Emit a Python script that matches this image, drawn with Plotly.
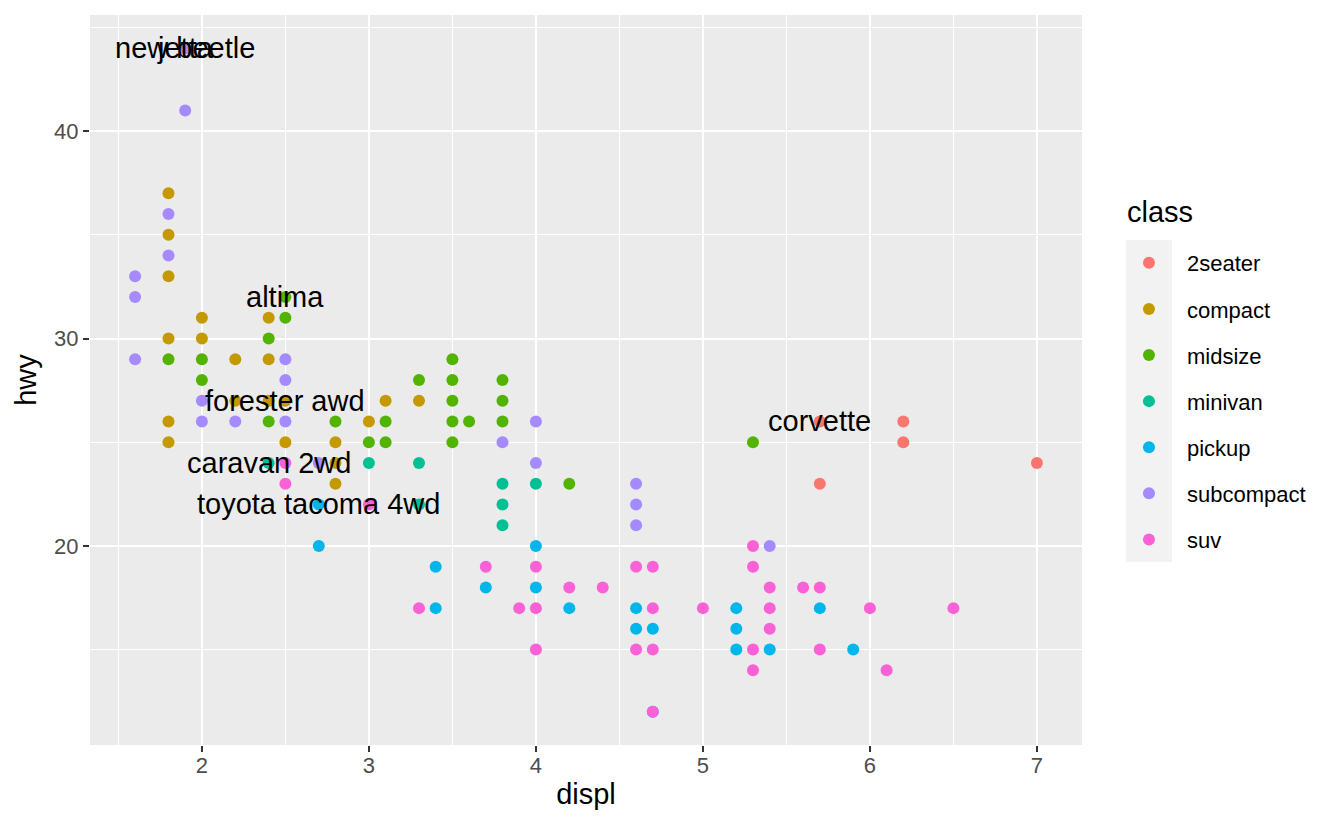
import plotly.graph_objects as go

# ---- data ----
classes = ["2seater", "compact", "midsize", "minivan", "pickup", "subcompact", "suv"]
class_colors = ["#F8766D", "#C49A00", "#53B400", "#00C094", "#00B6EB", "#A58AFF", "#FB61D7"]

displ_2seater = [5.7, 5.7, 6.2, 6.2, 7.0]
hwy_2seater = [26, 23, 26, 25, 24]

displ_compact = [1.8, 1.8, 1.8, 1.8, 1.8, 1.8, 1.9, 2.0, 2.0, 2.2, 2.2, 2.4, 2.4, 2.4, 2.5, 2.5,
                 2.8, 2.8, 2.8, 3.0, 3.1, 3.3]
hwy_compact = [37, 35, 33, 30, 26, 25, 44, 31, 30, 29, 27, 31, 29, 27, 27, 25,
               25, 24, 23, 26, 27, 27]

displ_midsize = [1.8, 2.0, 2.0, 2.4, 2.4, 2.5, 2.5, 2.8, 3.0, 3.1, 3.1, 3.3, 3.5, 3.5, 3.5, 3.5,
                 3.5, 3.6, 3.8, 3.8, 3.8, 4.2, 5.3]
hwy_midsize = [29, 29, 28, 30, 26, 32, 31, 26, 25, 26, 25, 28, 29, 28, 27, 26,
               25, 26, 28, 27, 26, 23, 25]

displ_minivan = [2.4, 3.0, 3.3, 3.3, 3.8, 3.8, 3.8, 4.0]
hwy_minivan = [24, 24, 24, 22, 23, 22, 21, 23]

displ_pickup = [2.7, 2.7, 3.4, 3.4, 3.7, 4.0, 4.0, 4.2, 4.6, 4.6, 4.7, 4.7, 5.2, 5.2, 5.2, 5.4,
                5.7, 5.9]
hwy_pickup = [22, 20, 19, 17, 18, 20, 18, 17, 17, 16, 16, 12, 17, 16, 15, 15,
              17, 15]

displ_subcompact = [1.6, 1.6, 1.6, 1.8, 1.8, 1.9, 1.9, 2.0, 2.0, 2.2, 2.5, 2.5, 2.5, 2.7, 3.8,
                    4.0, 4.0, 4.6, 4.6, 4.6, 5.4]
hwy_subcompact = [33, 32, 29, 36, 34, 44, 41, 27, 26, 26, 29, 28, 26, 24, 25,
                  26, 24, 23, 22, 21, 20]

displ_suv = [2.5, 2.5, 3.0, 3.3, 3.7, 3.9, 4.0, 4.0, 4.0, 4.2, 4.4, 4.6, 4.6, 4.7, 4.7, 4.7,
             4.7, 5.0, 5.3, 5.3, 5.3, 5.3, 5.4, 5.4, 5.4, 5.6, 5.7, 5.7, 6.0, 6.1, 6.5]
hwy_suv = [24, 23, 22, 17, 19, 17, 19, 17, 15, 18, 18, 19, 15, 19, 17, 15,
           12, 17, 20, 19, 15, 14, 18, 17, 16, 18, 18, 15, 17, 14, 17]

# best-in-class labels
label_text = ["corvette", "jetta", "altima", "caravan 2wd", "toyota tacoma 4wd", "new beetle", "forester awd"]
label_x = [5.7, 1.9, 2.5, 2.4, 2.7, 1.9, 2.5]
label_y = [26, 44, 32, 24, 22, 44, 27]

x_ticks = [2, 3, 4, 5, 6, 7]
x_minor = [1.5, 2.5, 3.5, 4.5, 5.5, 6.5]
y_ticks = [20, 30, 40]
y_minor = [15, 25, 35, 45]

series_x = [displ_2seater, displ_compact, displ_midsize, displ_minivan,
            displ_pickup, displ_subcompact, displ_suv]
series_y = [hwy_2seater, hwy_compact, hwy_midsize, hwy_minivan,
            hwy_pickup, hwy_subcompact, hwy_suv]

FONT = "Liberation Sans, Arial, sans-serif"

fig = go.Figure()
for name, col, xs, ys in zip(classes, class_colors, series_x, series_y):
    fig.add_trace(go.Scatter(
        x=xs, y=ys, mode="markers", name=name, legendgroup=name,
        marker=dict(color=col, size=12, line=dict(width=0)),
    ))

for t, x, y in zip(label_text, label_x, label_y):
    fig.add_annotation(x=x, y=y, text=t, showarrow=False, xanchor="center", yanchor="middle",
                       font=dict(family=FONT, size=29, color="black"))

# legend title as text
fig.add_annotation(xref="paper", yref="paper", x=1.0434, y=0.730, xanchor="left", yanchor="middle",
                   text="class", showarrow=False, font=dict(family=FONT, size=29, color="black"))

# legend key background
fig.add_shape(type="rect", xref="paper", yref="paper", x0=1.0444, x1=1.0907, y0=0.2507, y1=0.6918,
              fillcolor="#F2F2F2", line=dict(width=0), layer="below")

axis_common = dict(
    showgrid=True, gridcolor="white", gridwidth=2.2, zeroline=False, showline=False,
    ticks="outside", ticklen=6, tickwidth=2, tickcolor="#333333",
    tickfont=dict(family=FONT, size=22, color="#4D4D4D"),
)

fig.update_layout(
    width=1328, height=814,
    margin=dict(l=82, r=254, t=7, b=77),
    paper_bgcolor="white", plot_bgcolor="#EBEBEB",
    font=dict(family=FONT),
    xaxis=dict(axis_common, range=[1.33, 7.27], tickvals=x_ticks, ticklabelstandoff=-5,
               minor=dict(tickvals=x_minor, showgrid=True, gridcolor="white", gridwidth=1.1, ticklen=0),
               title=dict(text="displ", font=dict(family=FONT, size=29, color="black"), standoff=6)),
    yaxis=dict(axis_common, range=[10.4, 45.6], tickvals=y_ticks,
               minor=dict(tickvals=y_minor, showgrid=True, gridcolor="white", gridwidth=1.1, ticklen=0),
               title=dict(text="hwy", font=dict(family=FONT, size=29, color="black"), standoff=8)),
    legend=dict(
        font=dict(family=FONT, size=22, color="black"),
        x=1.0292, y=0.689, xanchor="left", yanchor="top",
        itemwidth=66, tracegroupgap=14.5, bgcolor="rgba(0,0,0,0)",
    ),
    showlegend=True,
)

fig.write_html("out.html")
